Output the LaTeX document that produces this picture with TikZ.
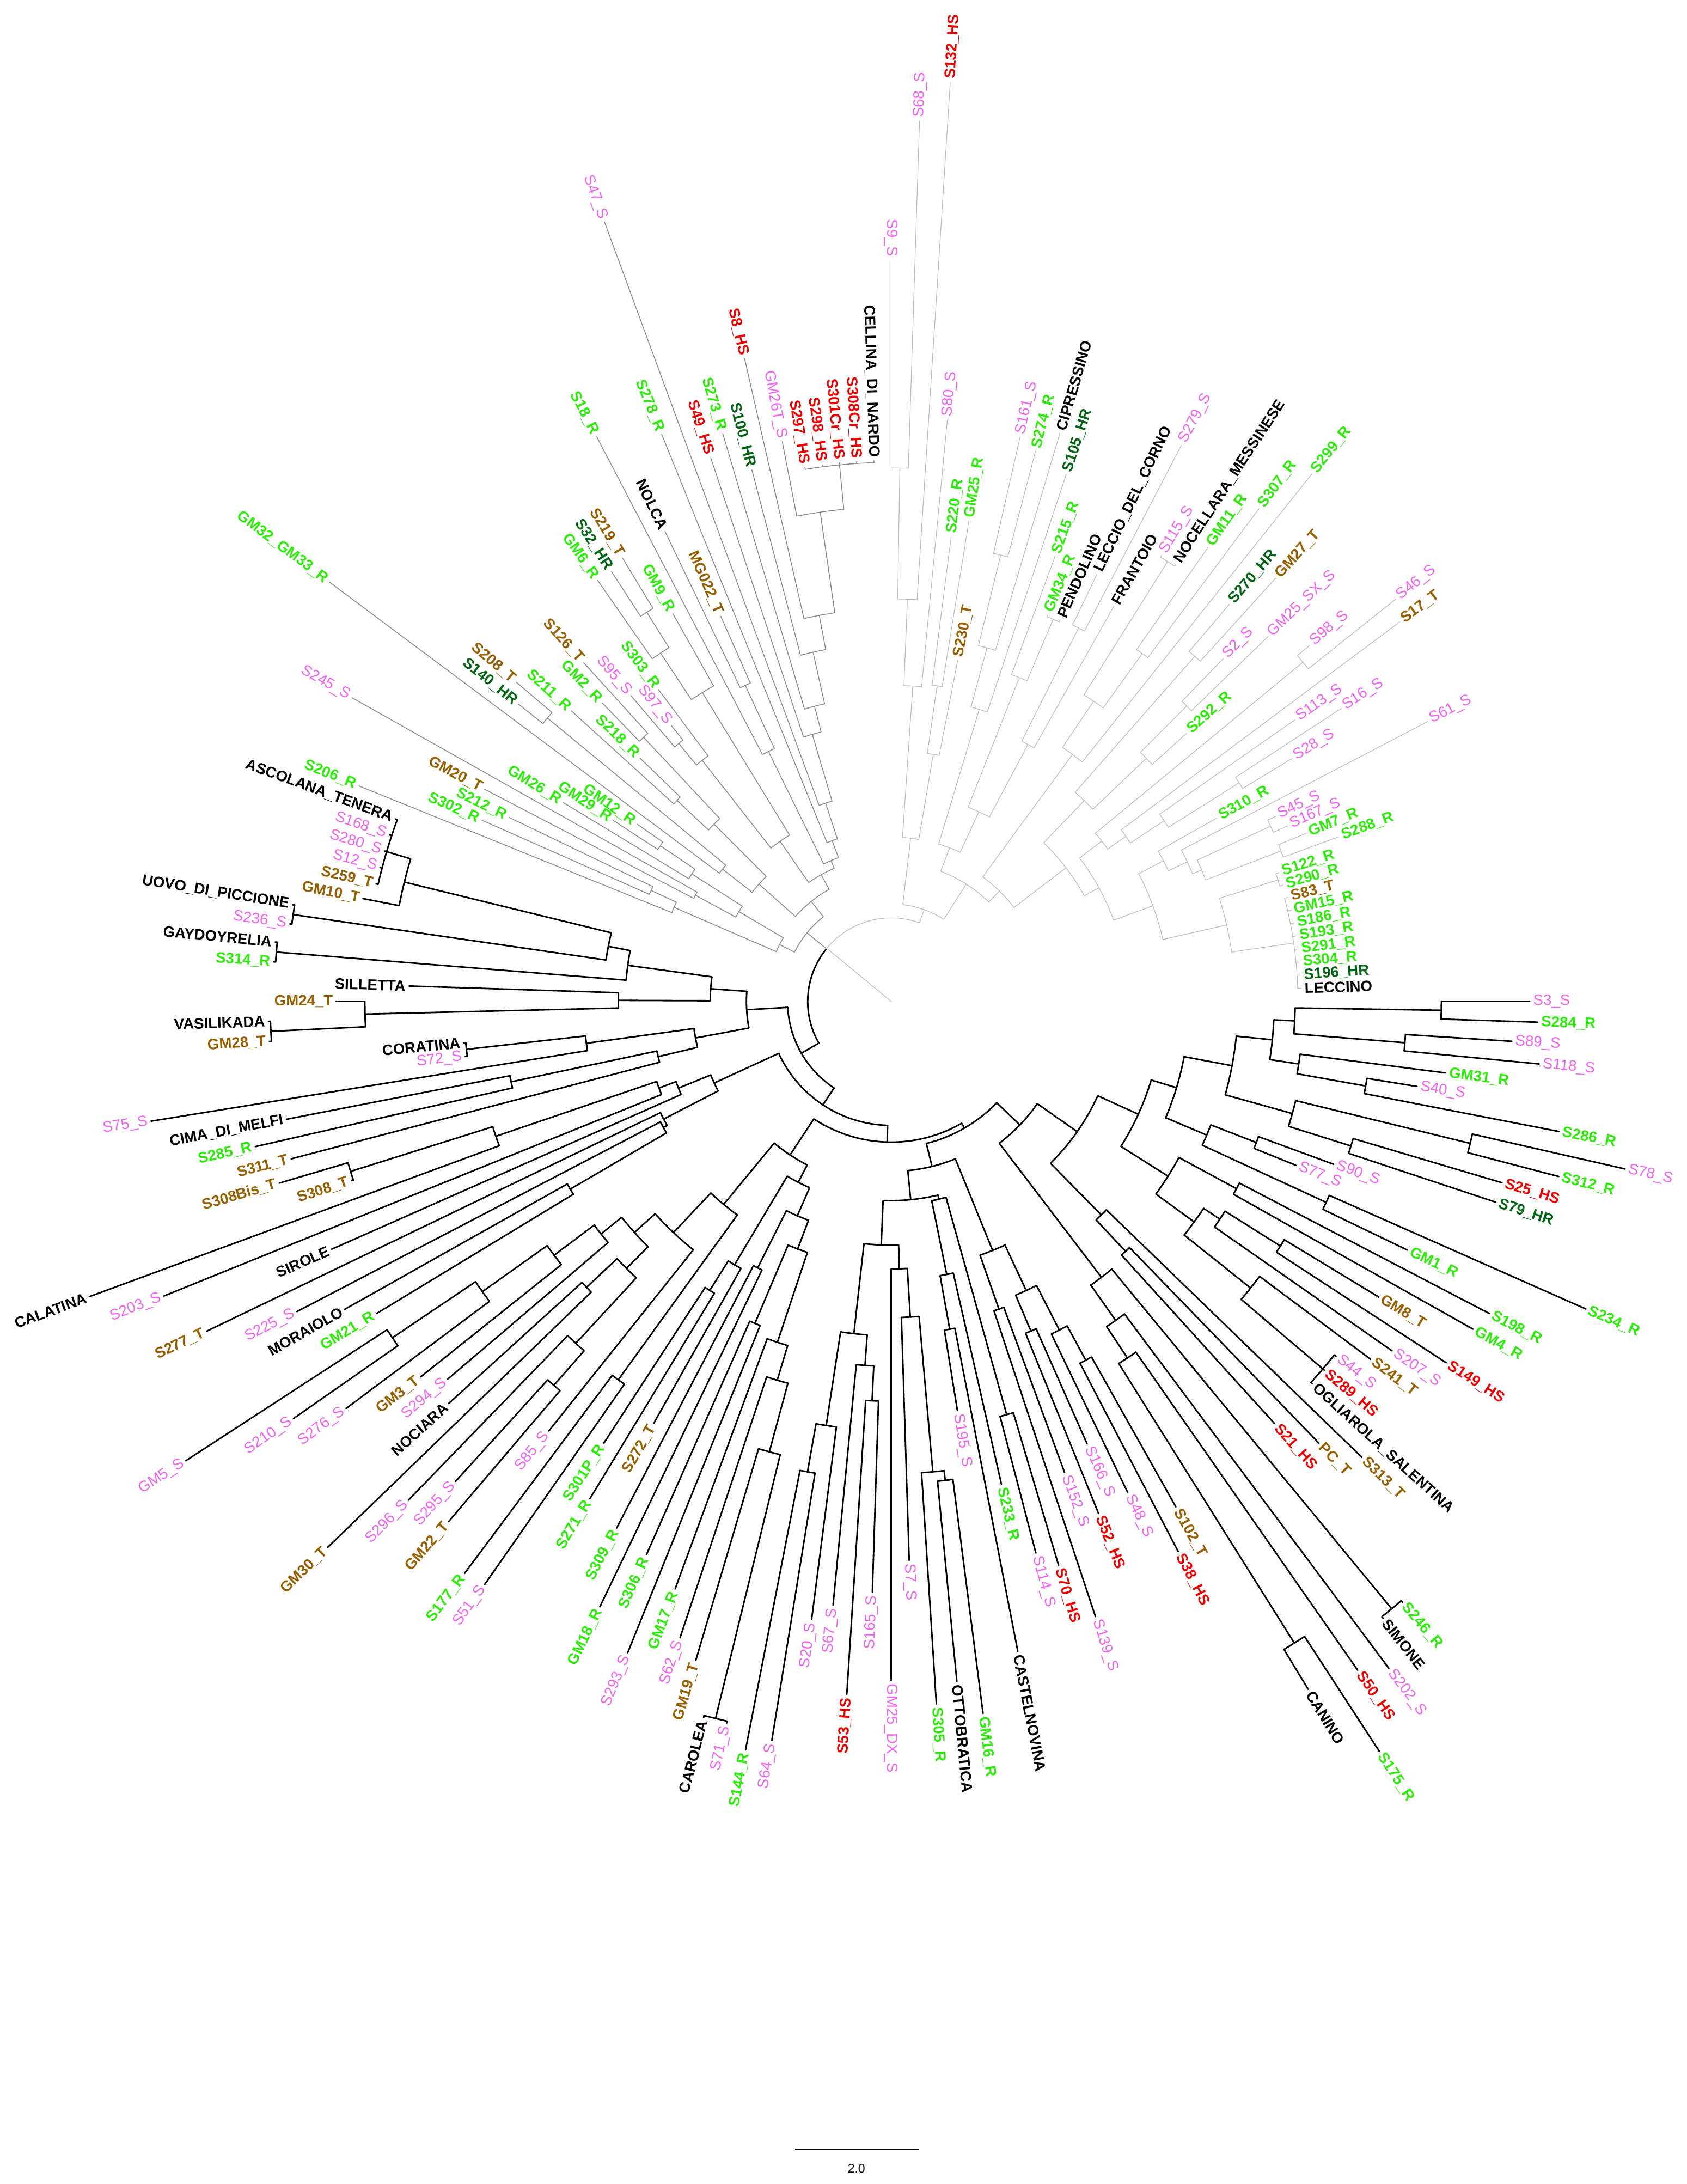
\documentclass[tikz,border=0pt]{standalone}
\usepackage{fontspec}
\setmainfont{Liberation Sans}
\definecolor{cP}{RGB}{240,100,240}
\definecolor{cG}{RGB}{45,235,10}
\definecolor{cD}{RGB}{0,100,20}
\definecolor{cR}{RGB}{235,0,0}
\definecolor{cB}{RGB}{150,95,0}
\definecolor{cGrey}{RGB}{140,140,140}
\definecolor{cLight}{RGB}{190,190,190}
\newcommand\fsz{\fontsize{10.8}{12}\selectfont}
\def\DA{1.83673}
\tikzset{
 lb/.style={inner sep=0pt,outer sep=0pt,font=\fsz},
 lP/.style={lb,text=cP},
 lG/.style={lb,text=cG,font=\fsz\bfseries},
 lD/.style={lb,text=cD,font=\fsz\bfseries},
 lR/.style={lb,text=cR,font=\fsz\bfseries},
 lT/.style={lb,text=cB,font=\fsz\bfseries},
 lK/.style={lb,text=black,font=\fsz\bfseries},
 br/.style={black,line width=1.1pt,line cap=round}
}
\newcommand\Lf[5]{%
  \pgfmathsetmacro\aL{-(#1-1)*\DA}%
  \pgfmathsetmacro\rE{#3-2.5}%
  \draw[br] (\aL:#2pt) -- (\aL:\rE pt);%
  \ifdim\aL pt>-90pt \edef\rotL{\aL}\def\ancL{west}%
  \else\ifdim\aL pt<-270pt \pgfmathsetmacro\rotL{\aL+360}\def\ancL{west}%
  \else \pgfmathsetmacro\rotL{\aL+180}\def\ancL{east}\fi\fi
  \node[#4,rotate=\rotL,anchor=\ancL] (L#1) at (\aL:#3pt) {#5};%
}
\newcommand\Nd[4]{%
  \pgfmathsetmacro\aA{-(#1-1)*\DA}%
  \pgfmathsetmacro\aB{-(#2-1)*\DA}%
  \pgfmathsetmacro\aM{(\aA+\aB)/2}%
  \draw[br] (\aA:#3pt) arc[start angle=\aA,end angle=\aB,radius=#3pt];%
  \draw[br] (\aM:#4pt) -- (\aM:#3pt);%
}
\newcommand\Arc[3]{%
  \pgfmathsetmacro\aA{-(#1-1)*\DA}%
  \pgfmathsetmacro\aB{-(#2-1)*\DA}%
  \draw[br] (\aA:#3pt) arc[start angle=\aA,end angle=\aB,radius=#3pt];%
}
\newcommand\Rad[3]{%
  \pgfmathsetmacro\aA{-(#1-1)*\DA}%
  \draw[br] (\aA:#2pt) -- (\aA:#3pt);%
}
\begin{document}
\begin{tikzpicture}
\fill[white] (-640pt,-849pt) rectangle (571pt,719pt);
\useasboundingbox (-640pt,-849pt) rectangle (571pt,719pt);
% ---------------- black clade
\tikzset{br/.style={black,line width=1.1pt,line cap=round}}
\Arc{82.72}{120.3}{60}
\Nd{1}{2}{395}{290}
\Nd{3}{4}{370}{290}
\Nd{1.5}{3.5}{290}{275}
\Nd{6}{7}{346}{296}
\Nd{5}{6.5}{296}{275}
\Nd{2.5}{5.75}{275}{249}
\Nd{8}{9}{428}{299}
\Nd{10}{11}{346}{299}
\Nd{8.5}{10.5}{299}{249}
\Nd{4.125}{9.5}{249}{214}
\Nd{12}{13}{281}{246}
\Nd{14}{15}{344}{246}
\Nd{12.5}{14.5}{246}{214}
\Nd{6.8125}{13.5}{214}{195}
\Nd{16}{17}{282}{235}
\Nd{18}{19}{330}{283}
\Nd{18.5}{20}{283}{269}
\Nd{22}{24}{407}{330}
\Nd{21}{23}{330}{269}
\Nd{19.25}{22}{269}{235}
\Nd{16.5}{20.625}{235}{195}
\Nd{10.15625}{18.5625}{195}{163}
\Nd{26}{27}{246}{215}
\Nd{25}{26.5}{215}{163}
\Nd{14.359}{25.75}{163}{128}
\Nd{28}{29}{565}{249}
\Nd{32}{33}{544}{307}
\Nd{31}{32.5}{307}{280}
\Nd{30}{31.75}{280}{249}
\Nd{28.5}{30.875}{249}{128}
\Nd{20.055}{29.6875}{128}{105}
\Nd{34}{35}{293}{265}
\Nd{34.5}{36}{265}{229}
\Nd{37}{38}{257}{229}
\Nd{35.25}{37.5}{229}{193}
\Nd{39}{40}{234}{193}
\Nd{36.375}{39.5}{193}{122}
\Nd{41}{42}{308}{146}
\Nd{44}{45}{239}{200}
\Nd{43}{44.5}{200}{146}
\Nd{41.5}{43.75}{146}{143}
\Nd{46}{47}{346}{339}
\Nd{46.5}{48}{339}{227}
\Nd{47.25}{49}{227}{192}
\Nd{48.125}{50}{192}{175}
\Nd{51}{52}{287}{262}
\Nd{51.5}{53}{262}{240}
\Nd{55}{56}{343}{308}
\Nd{54}{55.5}{308}{240}
\Nd{52.25}{54.75}{240}{175}
\Nd{49.0625}{53.5}{175}{143}
\Nd{42.625}{51.28125}{143}{122}
\Nd{37.9375}{46.953}{122}{105}
\Nd{24.871}{42.445}{105}{101}
\Nd{57}{58}{530}{335}
\Nd{57.5}{59}{335}{284}
\Nd{58.25}{60}{284}{258}
\Nd{59.125}{61}{258}{190}
\Nd{62}{63}{251}{190}
\Nd{60.0625}{62.5}{190}{168}
\Nd{64}{65}{214}{168}
\Nd{61.28}{64.5}{168}{146}
\Nd{67}{68}{245}{220}
\Nd{66}{67.5}{220}{146}
\Nd{62.89}{66.75}{146}{132}
\Nd{69}{70}{335}{189}
\Nd{72}{73}{367}{334}
\Nd{72.5}{74}{334}{270}
\Nd{75}{76}{300}{270}
\Nd{73.25}{75.5}{270}{248}
\Nd{80}{81}{432}{360}
\Nd{79}{80.5}{360}{303}
\Nd{78}{79.75}{303}{267}
\Nd{77}{78.875}{267}{248}
\Nd{74.375}{77.9375}{248}{228}
\Nd{71}{76.156}{228}{189}
\Nd{69.5}{73.578}{189}{132}
\Nd{64.82}{71.539}{132}{101}
\Nd{33.658}{68.18}{101}{89}
\Nd{82}{83}{267}{187}
\Nd{82.5}{84}{187}{184}
\Nd{83.25}{85}{184}{140}
\Nd{89}{90}{407}{300}
\Nd{88}{89.5}{300}{178}
\Nd{87}{88.75}{178}{165}
\Nd{86}{87.875}{165}{140}
\Nd{84.125}{86.94}{140}{89}
\Nd{50.92}{85.53}{89}{74.5}
\Nd{92}{93}{279}{172}
\Nd{91}{92.5}{172}{143}
\Nd{95}{96}{307}{221}
\Nd{94}{95.5}{221}{143}
\Nd{91.75}{94.75}{143}{104}
\Nd{97}{98}{446}{378}
\Nd{97.5}{99}{378}{196}
\Nd{98.25}{100}{196}{130}
\Nd{101}{102}{443}{191}
\Nd{103}{104}{434}{207}
\Nd{106}{110}{378}{360}
\Nd{105}{108}{360}{207}
\Nd{103.5}{106.5}{207}{191}
\Nd{101.5}{105}{191}{130}
\Nd{99.125}{103.25}{130}{104}
\Nd{93.25}{101.19}{104}{74.5}
\Nd{68.22}{97.22}{74.5}{60}
\Lf{1}{395}{461}{lP}{S3\_S}
\Lf{2}{395}{467}{lG}{S284\_R}
\Lf{3}{370}{449}{lP}{S89\_S}
\Lf{4}{370}{470}{lP}{S118\_S}
\Lf{5}{296}{404}{lG}{GM31\_R}
\Lf{6}{346}{385}{lP}{S40\_S}
\Lf{7}{346}{491}{lG}{S286\_R}
\Lf{8}{428}{543}{lP}{S78\_S}
\Lf{9}{428}{498}{lG}{S312\_R}
\Lf{10}{346}{460}{lR}{S25\_HS}
\Lf{11}{346}{460}{lD}{S79\_HR}
\Lf{12}{281}{341}{lP}{S90\_S}
\Lf{13}{281}{316}{lP}{S77\_S}
\Lf{14}{344}{548}{lG}{S234\_R}
\Lf{15}{344}{414}{lG}{GM1\_R}
\Lf{16}{282}{487}{lG}{S198\_R}
\Lf{17}{282}{482}{lG}{GM4\_R}
\Lf{18}{330}{412}{lT}{GM8\_T}
\Lf{19}{330}{478}{lR}{S149\_HS}
\Lf{20}{283}{441}{lP}{S207\_S}
\Lf{21}{330}{432}{lT}{S241\_T}
\Lf{22}{407}{411}{lP}{S44\_S}
\Lf{23}{407}{411}{lR}{S289\_HS}
\Lf{24}{407}{411}{lK}{OGLIAROLA\_SALENTINA}
\Lf{25}{215}{473}{lT}{S313\_T}
\Lf{26}{246}{444}{lT}{PC\_T}
\Lf{27}{246}{412}{lR}{S21\_HS}
\Lf{28}{565}{569}{lG}{S246\_R}
\Lf{29}{565}{569}{lK}{SIMONE}
\Lf{30}{280}{600}{lP}{S202\_S}
\Lf{31}{307}{588}{lR}{S50\_HS}
\Lf{32}{544}{645}{lG}{S175\_R}
\Lf{33}{544}{580}{lK}{CANINO}
\Lf{34}{293}{419}{lT}{S102\_T}
\Lf{35}{293}{448}{lR}{S38\_HS}
\Lf{36}{265}{394}{lP}{S48\_S}
\Lf{37}{257}{350}{lP}{S166\_S}
\Lf{38}{257}{399}{lR}{S52\_HS}
\Lf{39}{234}{363}{lP}{S152\_S}
\Lf{40}{234}{468}{lP}{S139\_S}
\Lf{41}{308}{425}{lR}{S70\_HS}
\Lf{42}{308}{412}{lP}{S114\_S}
\Lf{43}{200}{358}{lG}{S233\_R}
\Lf{44}{239}{478}{lK}{CASTELNOVINA}
\Lf{45}{239}{300}{lP}{S195\_S}
\Lf{46}{346}{518}{lG}{GM16\_R}
\Lf{47}{346}{493}{lK}{OTTOBRATICA}
\Lf{48}{339}{508}{lG}{S305\_R}
\Lf{49}{227}{404}{lP}{S7\_S}
\Lf{50}{192}{490}{lP}{GM25\_DX\_S}
\Lf{51}{287}{427}{lP}{S165\_S}
\Lf{52}{287}{501}{lR}{S53\_HS}
\Lf{53}{262}{438}{lP}{S67\_S}
\Lf{54}{308}{450}{lP}{S20\_S}
\Lf{55}{343}{540}{lP}{S64\_S}
\Lf{56}{343}{550}{lG}{S144\_R}
\Lf{57}{530}{534}{lP}{S71\_S}
\Lf{58}{530}{534}{lK}{CAROLEA}
\Lf{59}{335}{496}{lT}{GM19\_T}
\Lf{60}{284}{484}{lP}{S62\_S}
\Lf{61}{258}{452}{lG}{GM17\_R}
\Lf{62}{251}{507}{lP}{S293\_S}
\Lf{63}{251}{437}{lG}{S306\_R}
\Lf{64}{214}{485}{lG}{GM18\_R}
\Lf{65}{214}{429}{lG}{S309\_R}
\Lf{66}{220}{350}{lT}{S272\_T}
\Lf{67}{245}{420}{lG}{S271\_R}
\Lf{68}{245}{381}{lG}{S301P\_R}
\Lf{69}{335}{513}{lP}{S51\_S}
\Lf{70}{335}{515}{lG}{S177\_R}
\Lf{71}{228}{397}{lP}{S85\_S}
\Lf{72}{367}{493}{lT}{GM22\_T}
\Lf{73}{367}{468}{lP}{S295\_S}
\Lf{74}{334}{501}{lP}{S296\_S}
\Lf{75}{300}{566}{lT}{GM30\_T}
\Lf{76}{300}{432}{lK}{NOCIARA}
\Lf{77}{267}{421}{lP}{S294\_S}
\Lf{78}{303}{435}{lT}{GM3\_T}
\Lf{79}{360}{491}{lP}{S276\_S}
\Lf{80}{432}{526}{lP}{S210\_S}
\Lf{81}{432}{607}{lP}{GM5\_S}
\Lf{82}{267}{435}{lG}{GM21\_R}
\Lf{83}{267}{453}{lK}{MORAIOLO}
\Lf{84}{187}{484}{lP}{S225\_S}
\Lf{85}{184}{548}{lT}{S277\_T}
\Lf{86}{165}{442}{lK}{SIROLE}
\Lf{87}{178}{566}{lP}{S203\_S}
\Lf{88}{300}{616}{lK}{CALATINA}
\Lf{89}{407}{411}{lT}{S308\_T}
\Lf{90}{407}{461}{lT}{S308Bis\_T}
\Lf{91}{172}{448}{lT}{S311\_T}
\Lf{92}{279}{471}{lG}{S285\_R}
\Lf{93}{279}{445}{lK}{CIMA\_DI\_MELFI}
\Lf{94}{221}{541}{lP}{S75\_S}
\Lf{95}{307}{311}{lP}{S72\_S}
\Lf{96}{307}{311}{lK}{CORATINA}
\Lf{97}{446}{450}{lT}{GM28\_T}
\Lf{98}{446}{450}{lK}{VASILIKADA}
\Lf{99}{378}{401}{lT}{GM24\_T}
\Lf{100}{196}{349}{lK}{SILLETTA}
\Lf{101}{443}{447}{lG}{S314\_R}
\Lf{102}{443}{447}{lK}{GAYDOYRELIA}
\Lf{103}{434}{438}{lP}{S236\_S}
\Lf{104}{434}{438}{lK}{UOVO\_DI\_PICCIONE}
\Lf{105}{360}{389}{lT}{GM10\_T}
\Lf{106}{378}{382}{lT}{S259\_T}
\Lf{107}{378}{382}{lP}{S12\_S}
\Lf{108}{378}{382}{lP}{S280\_S}
\Lf{109}{378}{382}{lP}{S168\_S}
\Lf{110}{378}{382}{lK}{ASCOLANA\_TENERA}
% ---------------- grey clade
\tikzset{br/.style={cGrey,line width=0.6pt,line cap=round}}
\Nd{112}{113}{190}{170}
\Nd{111}{112.5}{170}{90}
\Nd{114}{115}{160}{127}
\Nd{117}{118}{200}{170}
\Nd{116}{117.5}{170}{127}
\Nd{114.5}{116.75}{127}{90}
\Nd{111.75}{115.625}{90}{78}
\Nd{120}{121}{320}{154}
\Nd{119}{120.5}{154}{127}
\Nd{122}{123}{211}{180}
\Nd{124}{125}{260}{180}
\Nd{122.5}{124.5}{180}{127}
\Nd{119.75}{123.5}{127}{92}
\Nd{126}{127}{240}{220}
\Nd{126.5}{128}{220}{140}
\Nd{130}{131}{330}{300}
\Nd{129}{130.5}{300}{260}
\Nd{129.75}{132}{260}{140}
\Nd{127.25}{130.875}{140}{104}
\Nd{134}{135}{250}{200}
\Nd{133}{134.5}{200}{110}
\Nd{143}{147}{387}{355}
\Nd{142}{145}{355}{282}
\Nd{141}{143.5}{282}{257}
\Nd{140}{142.25}{257}{219}
\Nd{139}{141.125}{219}{200}
\Nd{138}{140.0625}{200}{150}
\Nd{137}{139.03}{150}{123}
\Nd{136}{138.016}{123}{110}
\Nd{133.75}{137.008}{110}{104}
\Nd{129.0625}{135.38}{104}{92}
\Nd{121.625}{132.22}{92}{78}
\Nd{113.6875}{126.92}{78}{60}
\Lf{111}{170}{415}{lG}{S206\_R}
\Lf{112}{190}{324}{lG}{S302\_R}
\Lf{113}{190}{307}{lG}{S212\_R}
\Lf{114}{160}{332}{lT}{GM20\_T}
\Lf{115}{160}{447}{lP}{S245\_S}
\Lf{116}{170}{278}{lG}{GM26\_R}
\Lf{117}{200}{241}{lG}{GM29\_R}
\Lf{118}{200}{225}{lG}{GM12\_R}
\Lf{119}{154}{506}{lG}{GM32\_GM33\_R}
\Lf{120}{320}{345}{lD}{S140\_HR}
\Lf{121}{320}{356}{lT}{S208\_T}
\Lf{122}{211}{313}{lG}{S211\_R}
\Lf{123}{211}{254}{lG}{S218\_R}
\Lf{124}{260}{301}{lG}{GM2\_R}
\Lf{125}{260}{331}{lT}{S126\_T}
\Lf{126}{240}{291}{lP}{S95\_S}
\Lf{127}{240}{256}{lP}{S97\_S}
\Lf{128}{220}{282}{lG}{S303\_R}
\Lf{129}{300}{371}{lG}{GM6\_R}
\Lf{130}{330}{371}{lD}{S32\_HR}
\Lf{131}{330}{375}{lT}{S219\_T}
\Lf{132}{260}{322}{lG}{GM9\_R}
\Lf{133}{200}{460}{lG}{S18\_R}
\Lf{134}{250}{377}{lK}{NOLCA}
\Lf{135}{250}{305}{lT}{MG022\_T}
\Lf{136}{123}{442}{lG}{S278\_R}
\Lf{137}{150}{599}{lP}{S47\_S}
\Lf{138}{200}{414}{lR}{S49\_HS}
\Lf{139}{219}{428}{lG}{S273\_R}
\Lf{140}{257}{397}{lD}{S100\_HR}
\Lf{141}{282}{476}{lR}{S8\_HS}
\Lf{142}{355}{412}{lP}{GM26T\_S}
\Lf{143}{387}{391}{lR}{S297\_HS}
\Lf{144}{387}{391}{lR}{S298\_HS}
\Lf{145}{387}{391}{lR}{S301Cr\_HS}
\Lf{146}{387}{391}{lR}{S308Cr\_HS}
\Lf{147}{387}{391}{lK}{CELLINA\_DI\_NARDO}
% ---------------- light grey clade
\tikzset{br/.style={cLight,line width=0.5pt,line cap=round}}
\Arc{120.3}{158.72}{60}
\Rad{120.5}{0}{60}
\Nd{148}{149}{383}{289}
\Nd{148.5}{150}{289}{227}
\Nd{149.25}{151}{227}{118}
\Nd{152}{153}{229}{180}
\Nd{152.5}{154}{180}{118}
\Nd{150.125}{153.25}{118}{70}
\Nd{155}{156}{330}{263}
\Nd{155.5}{157}{263}{219}
\Nd{156.25}{158}{219}{118}
\Nd{160}{161}{298}{250}
\Nd{159}{160.5}{250}{150}
\Nd{162}{163}{300}{209}
\Nd{162.5}{164}{209}{150}
\Nd{159.75}{163.25}{150}{118}
\Nd{157.125}{161.5}{118}{100}
\Nd{165}{166}{373}{260}
\Nd{167}{168}{308}{260}
\Nd{165.5}{167.5}{260}{220}
\Nd{166.5}{169}{220}{111}
\Nd{170}{171}{330}{200}
\Nd{172}{173}{300}{253}
\Nd{172.5}{174}{253}{200}
\Nd{170.5}{173.25}{200}{158}
\Nd{175}{176}{383}{190}
\Nd{179}{180}{295}{235}
\Nd{178}{179.5}{235}{206}
\Nd{177}{178.75}{206}{190}
\Nd{175.5}{177.875}{190}{170}
\Nd{183}{184}{300}{242}
\Nd{185}{186}{300}{242}
\Nd{183.5}{185.5}{242}{235}
\Nd{182}{184.5}{235}{220}
\Nd{181}{183.25}{220}{200}
\Nd{187}{188}{291}{247}
\Nd{189}{196}{292}{247}
\Nd{187.5}{192.5}{247}{200}
\Nd{182.125}{190}{200}{170}
\Nd{176.6875}{186.0625}{170}{158}
\Nd{171.875}{181.375}{158}{111}
\Nd{167.75}{176.625}{111}{100}
\Nd{159.3125}{172.19}{100}{70}
\Nd{151.6875}{165.75}{70}{60}
\Lf{148}{383}{535}{lP}{S9\_S}
\Lf{149}{383}{635}{lP}{S68\_S}
\Lf{150}{289}{664}{lR}{S132\_HS}
\Lf{151}{227}{422}{lP}{S80\_S}
\Lf{152}{229}{339}{lG}{S220\_R}
\Lf{153}{229}{352}{lG}{GM25\_R}
\Lf{154}{180}{252}{lT}{S230\_T}
\Lf{155}{330}{418}{lP}{S161\_S}
\Lf{156}{330}{411}{lG}{S274\_R}
\Lf{157}{263}{428}{lK}{CIPRESSINO}
\Lf{158}{219}{401}{lD}{S105\_HR}
\Lf{159}{250}{343}{lG}{S215\_R}
\Lf{160}{298}{302}{lG}{GM34\_R}
\Lf{161}{298}{302}{lK}{PENDOLINO}
\Lf{162}{300}{343}{lK}{LECCIO\_DEL\_CORNO}
\Lf{163}{300}{453}{lP}{S279\_S}
\Lf{164}{209}{328}{lK}{FRANTOIO}
\Lf{165}{373}{377}{lP}{S115\_S}
\Lf{166}{373}{377}{lK}{NOCELLARA\_MESSINESE}
\Lf{167}{308}{400}{lG}{GM11\_R}
\Lf{168}{308}{444}{lG}{S307\_R}
\Lf{169}{220}{487}{lG}{S299\_R}
\Lf{170}{330}{377}{lD}{S270\_HR}
\Lf{171}{330}{413}{lT}{GM27\_T}
\Lf{172}{300}{345}{lP}{S2\_S}
\Lf{173}{300}{379}{lP}{GM25\_SX\_S}
\Lf{174}{253}{289}{lG}{S292\_R}
\Lf{175}{383}{397}{lP}{S98\_S}
\Lf{176}{383}{466}{lP}{S46\_S}
\Lf{177}{206}{458}{lT}{S17\_T}
\Lf{178}{235}{356}{lP}{S113\_S}
\Lf{179}{295}{388}{lP}{S16\_S}
\Lf{180}{295}{339}{lP}{S28\_S}
\Lf{181}{220}{271}{lG}{S310\_R}
\Lf{182}{235}{437}{lP}{S61\_S}
\Lf{183}{300}{309}{lP}{S45\_S}
\Lf{184}{300}{314}{lP}{S167\_S}
\Lf{185}{300}{324}{lG}{GM7\_R}
\Lf{186}{300}{345}{lG}{S288\_R}
\Lf{187}{291}{296}{lG}{S122\_R}
\Lf{188}{291}{296}{lG}{S290\_R}
\Lf{189}{292}{297}{lT}{S83\_T}
\Lf{190}{292}{297}{lG}{GM15\_R}
\Lf{191}{292}{297}{lG}{S186\_R}
\Lf{192}{292}{297}{lG}{S193\_R}
\Lf{193}{292}{297}{lG}{S291\_R}
\Lf{194}{292}{297}{lG}{S304\_R}
\Lf{195}{292}{297}{lD}{S196\_HR}
\Lf{196}{292}{297}{lK}{LECCINO}
% ---------------- scale bar
\coordinate (sbA) at (-69pt,-824pt);
\coordinate (sbB) at (20pt,-824pt);
\draw[black,line width=0.6pt] (sbA) -- (sbB);
\node[font=\fontsize{9}{10}\selectfont,inner sep=0pt] (sbL) at (-25pt,-838pt) {2.0};
\end{tikzpicture}
\end{document}
